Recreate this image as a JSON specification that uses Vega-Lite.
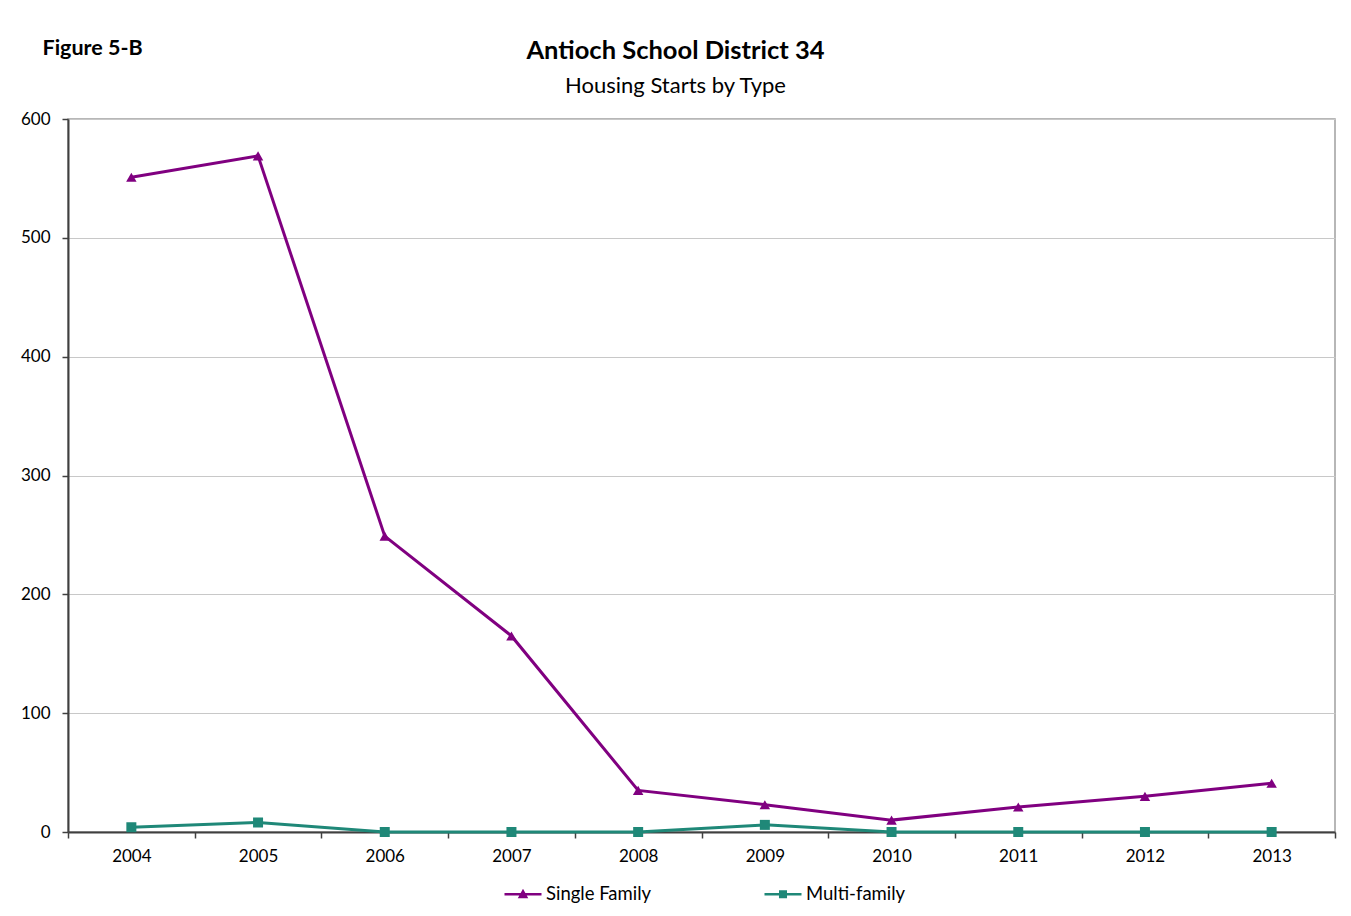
{
  "$schema": "https://vega.github.io/schema/vega-lite/v6.json",
  "autosize": "none",
  "width": 1267,
  "height": 713,
  "padding": {"left": 68, "top": 119, "right": 16, "bottom": 84},
  "background": "white",
  "data": {"values": [
    {"year": "2004", "type": "Single Family", "starts": 551},
    {"year": "2005", "type": "Single Family", "starts": 569},
    {"year": "2006", "type": "Single Family", "starts": 249},
    {"year": "2007", "type": "Single Family", "starts": 165},
    {"year": "2008", "type": "Single Family", "starts": 35},
    {"year": "2009", "type": "Single Family", "starts": 23},
    {"year": "2010", "type": "Single Family", "starts": 10},
    {"year": "2011", "type": "Single Family", "starts": 21},
    {"year": "2012", "type": "Single Family", "starts": 30},
    {"year": "2013", "type": "Single Family", "starts": 41},
    {"year": "2004", "type": "Multi-family", "starts": 4},
    {"year": "2005", "type": "Multi-family", "starts": 8},
    {"year": "2006", "type": "Multi-family", "starts": 0},
    {"year": "2007", "type": "Multi-family", "starts": 0},
    {"year": "2008", "type": "Multi-family", "starts": 0},
    {"year": "2009", "type": "Multi-family", "starts": 6},
    {"year": "2010", "type": "Multi-family", "starts": 0},
    {"year": "2011", "type": "Multi-family", "starts": 0},
    {"year": "2012", "type": "Multi-family", "starts": 0},
    {"year": "2013", "type": "Multi-family", "starts": 0}
  ]},
  "title": {
    "text": "Antioch School District 34",
    "subtitle": "Housing Starts by Type",
    "anchor": "middle",
    "dx": -26,
    "offset": -60,
    "font": "Lato",
    "fontSize": 25.5,
    "fontWeight": "bold",
    "color": "#000000",
    "subtitleFont": "Lato",
    "subtitleFontSize": 22,
    "subtitleColor": "#000000",
    "subtitlePadding": 12
  },
  "config": {
    "font": "Lato",
    "view": {"stroke": "#a0a0a0", "strokeWidth": 1.5}
  },
  "encoding": {
    "x": {
      "field": "year",
      "type": "ordinal",
      "scale": {"type": "band", "paddingInner": 0, "paddingOuter": 0},
      "axis": {
        "title": null,
        "labelAngle": 0,
        "labelFont": "Lato",
        "labelFontSize": 17,
        "labelColor": "#000000",
        "labelPadding": 10,
        "tickBand": "extent",
        "tickSize": 6,
        "tickColor": "#404040",
        "tickWidth": 1.5,
        "domainColor": "#404040",
        "domainWidth": 2,
        "grid": false
      }
    },
    "y": {
      "field": "starts",
      "type": "quantitative",
      "scale": {"domain": [0, 600], "nice": false},
      "axis": {
        "title": "Figure 5-B",
        "titleAngle": 0,
        "titleAlign": "left",
        "titleBaseline": "alphabetic",
        "titleX": -26,
        "titleY": -65,
        "titleFont": "Lato",
        "titleFontSize": 21.5,
        "titleFontWeight": "bold",
        "titleColor": "#000000",
        "values": [0, 100, 200, 300, 400, 500, 600],
        "labelFont": "Lato",
        "labelFontSize": 17,
        "labelColor": "#000000",
        "labelPadding": 12,
        "tickSize": 6,
        "tickColor": "#404040",
        "tickWidth": 1.5,
        "domainColor": "#404040",
        "domainWidth": 2,
        "grid": true,
        "gridColor": "#c8c8c8",
        "gridWidth": 1
      }
    }
  },
  "layer": [
    {
      "mark": {"type": "line", "strokeWidth": 3},
      "encoding": {
        "color": {
          "field": "type",
          "type": "nominal",
          "scale": {"domain": ["Single Family", "Multi-family"], "range": ["#800080", "#1f8878"]},
          "legend": {
            "title": null,
            "orient": "none",
            "direction": "horizontal",
            "legendX": 435,
            "legendY": 755,
            "labelFont": "Lato",
            "labelFontSize": 18.5,
            "labelColor": "#000000",
            "labelOffset": 3,
            "columnPadding": 107,
            "symbolSize": 1369,
            "symbolStrokeWidth": 2.5,
            "encode": {
              "symbols": {
                "update": {
                  "shape": {"signal": "datum.value === 'Single Family' ? 'M-1,0H1M-0.17,0.15L0,-0.16L0.17,0.15Z' : 'M-1,0H1M-0.15,-0.15H0.15V0.15H-0.15Z'"},
                  "fill": {"signal": "datum.value === 'Single Family' ? '#800080' : '#1f8878'"},
                  "stroke": {"signal": "datum.value === 'Single Family' ? '#800080' : '#1f8878'"},
                  "opacity": {"value": 1}
                }
              }
            }
          }
        }
      }
    },
    {
      "transform": [{"filter": "datum.type === 'Single Family'"}],
      "mark": {"type": "point", "shape": "triangle-up", "size": 110, "filled": true, "opacity": 1, "color": "#800080"}
    },
    {
      "transform": [{"filter": "datum.type === 'Multi-family'"}],
      "mark": {"type": "point", "shape": "square", "size": 100, "filled": true, "opacity": 1, "color": "#1f8878"}
    }
  ]
}
